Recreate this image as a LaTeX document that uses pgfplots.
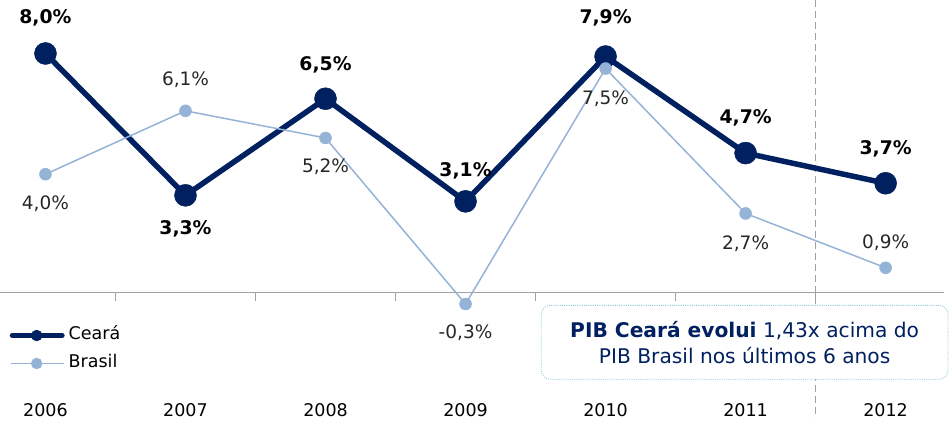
\documentclass[border=0pt]{standalone}
\usepackage{pgfplots}
\pgfplotsset{compat=1.18}
\usepackage{pgfplotstable}
\usepackage{fontspec}
\setmainfont{DejaVu Sans}
\definecolor{navy}{HTML}{002060}
\definecolor{lightb}{HTML}{95B3D7}
\definecolor{boxb}{HTML}{8CC8DC}
\definecolor{axgray}{HTML}{A0A0A0}
\definecolor{labgray}{HTML}{262626}

% pos = vertical offset of the data label (pt)
\pgfplotstableread{
x y pos
0 8.0 36
1 3.3 -34
2 6.5 34
3 3.1 31
4 7.9 39
5 4.7 35
6 3.7 34
}\ceara
\pgfplotstableread{
x y pos
0 4.0 -30
1 6.1 31
2 5.2 -29
3 -0.3 -29
4 7.5 -30
5 2.7 -30
6 0.9 25
}\brasil

\begin{document}
\begin{tikzpicture}[font=\fontsize{17.5}{21}\selectfont]
\begin{axis}[
    scale only axis,width=951pt,height=418pt,
    xmin=-0.3212,xmax=6.467,ymin=-4.086,ymax=9.755,
    clip=false,
    axis line style={draw=none},
    ytick=\empty,
    xtick={0,...,6},xticklabels={2006,2007,2008,2009,2010,2011,2012},
    major tick length=0pt,
    xticklabel style={anchor=center,yshift=8pt,text=black},
    /pgf/number format/assume math mode=true,
    /pgf/number format/fixed,
    /pgf/number format/fixed zerofill,
    /pgf/number format/precision=1,
    /pgf/number format/use comma,
    point meta=y,
    nodes near coords={\pgfmathprintnumber{\pgfplotspointmeta}\%},
    legend style={at={(rel axis cs:0.0095,0.2177)},anchor=north west,
        draw=none,fill=none,inner sep=0pt,row sep=12pt,column sep=4pt,
        nodes={inner sep=0pt,text height=12pt,text depth=4pt}},
    legend cell align=left,
]
% axis line, ticks and the 2012 separator
\draw[axgray,line width=1pt] (axis cs:-0.3212,0.07) -- (axis cs:6.42,0.07);
\pgfplotsinvokeforeach{0.5,1.5,2.5,3.5,4.5,5.5}{
  \draw[axgray,line width=1pt] (axis cs:#1,0.07) -- ++(0pt,-8pt);
}
\draw[axgray,line width=1pt,dash pattern=on 7pt off 4pt] (axis cs:5.496,9.755) -- (axis cs:5.496,-4.086);

\addplot[navy,line width=5.5pt,mark=*,mark size=11pt,
    mark options={solid,line width=0.5pt,fill=navy},
    visualization depends on={\thisrow{pos} \as \labpos},
    every node near coord/.append style={anchor=center,yshift=\labpos pt,
        font=\fontsize{18.8}{22}\selectfont\bfseries,text=black},
    forget plot] table[x=x,y=y] {\ceara};
\addplot[lightb,line width=1.5pt,mark=*,mark size=6pt,
    mark options={solid,line width=0.5pt,fill=lightb},
    visualization depends on={\thisrow{pos} \as \labpos},
    every node near coord/.append style={anchor=center,yshift=\labpos pt,
        font=\fontsize{18.5}{22}\selectfont,text=labgray},
    forget plot] table[x=x,y=y] {\brasil};

\addlegendimage{legend image code/.code={
  \draw[navy,line width=5pt,line cap=round] (2.5pt,0pt) -- (52.5pt,0pt);
  \fill[navy] (27pt,0pt) circle (5.5pt);}}
\addlegendentry{Ceará}
\addlegendimage{legend image code/.code={
  \draw[lightb,line width=1.5pt] (1pt,0pt) -- (54pt,0pt);
  \fill[lightb] (27pt,0pt) circle (5.5pt);}}
\addlegendentry{Brasil}

\node[draw=boxb,line width=0.8pt,dash pattern=on 1pt off 1.2pt,rounded corners=9pt,
    fill=white,minimum width=407pt,minimum height=74pt,align=center,text=navy,
    font=\fontsize{20.2}{25.7}\selectfont]
    at (rel axis cs:0.7829,0.1818)
    {\textbf{PIB Ceará evolui} 1,43x acima do\\PIB Brasil nos últimos 6 anos};
\end{axis}
\end{tikzpicture}
\end{document}
